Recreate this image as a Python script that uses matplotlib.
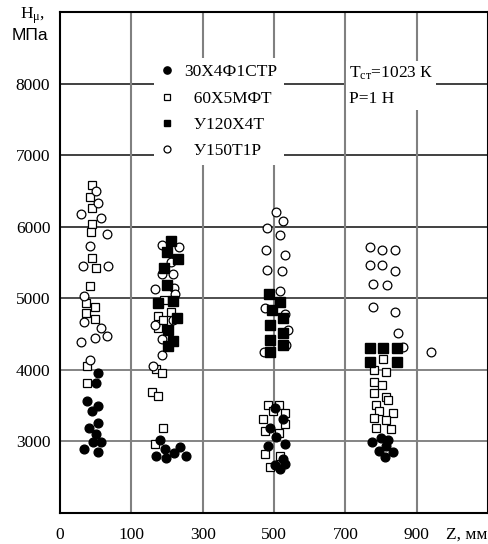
import numpy as np
import matplotlib
matplotlib.use('Agg')
import matplotlib.pyplot as plt
from matplotlib.lines import Line2D

plt.rcParams['font.family'] = ['Liberation Serif', 'DejaVu Serif']
plt.rcParams['font.size'] = 12.5
plt.rcParams['mathtext.fontset'] = 'custom'
plt.rcParams['mathtext.rm'] = 'Liberation Serif'
plt.rcParams['mathtext.it'] = 'Liberation Serif:italic'

# x axis labels are unevenly spaced (0,100,300,...) -> map Z (mm) to tick index
z_ticks = [0, 100, 300, 500, 700, 900, 1100]
tick_labels = ['0', '100', '300', '500', '700', '900']

def zpos(z):
    return np.interp(z, z_ticks, np.arange(len(z_ticks)))

# 30Х4Ф1СТР (filled circles)
z_30 = [53, 51, 38, 53, 45, 53, 41, 51, 46, 58, 34, 53,
        180, 194, 168, 196, 220, 237, 252,
        504, 526, 490, 507, 532, 484, 526, 504, 532, 518,
        799, 821, 776, 813, 793, 835, 810]
h_30 = [3960, 3820, 3560, 3500, 3420, 3260, 3190, 3110, 2990, 2990, 2900, 2850,
        3020, 2890, 2800, 2770, 2840, 2920, 2800,
        3470, 3310, 3190, 3060, 2960, 2930, 2750, 2670, 2680, 2610,
        3050, 3020, 2990, 2930, 2860, 2850, 2780]

# 60Х5МФТ (open squares)
z_60 = [45, 42, 45, 45, 44, 45, 51, 42, 37, 49, 37, 49, 38, 38,
        192, 175, 210, 190, 175, 170, 186, 159, 176, 190, 166,
        484, 515, 496, 532, 470, 532, 476, 515, 476, 518, 490,
        807, 779, 813, 779, 804, 779, 813, 785, 821, 793, 833, 779, 813, 785, 827]
h_60 = [6580, 6420, 6260, 6040, 5920, 5560, 5420, 5170, 4940, 4880, 4800, 4710, 4060, 3820,
        4980, 4750, 4810, 4690, 4580, 4010, 3950, 3690, 3630, 3190, 2960,
        3510, 3510, 3420, 3400, 3310, 3240, 3140, 3120, 2820, 2800, 2640,
        4150, 4000, 3970, 3830, 3790, 3680, 3620, 3510, 3580, 3430, 3400, 3330, 3300, 3190, 3170]

# У120Х4Т (filled squares)
z_120 = [211, 201, 231, 191, 201, 176, 218, 227, 203, 218, 203,
         487, 517, 494, 526, 490, 526, 490, 526, 490,
         768, 807, 844, 768, 844]
h_120 = [5800, 5640, 5550, 5430, 5180, 4940, 4960, 4730, 4560, 4410, 4330,
         5060, 4950, 4830, 4720, 4630, 4520, 4420, 4350, 4250,
         4300, 4300, 4300, 4110, 4110]

# У150Т1Р (open circles)
z_150 = [51, 53, 29, 58, 66, 42, 32, 67, 34, 34, 58, 66, 49, 29, 42,
         186, 235, 211, 187, 216, 166, 221, 222, 167, 218, 187, 187, 160,
         506, 526, 481, 517, 477, 531, 481, 523, 517, 476, 532, 540, 535, 473,
         768, 803, 839, 768, 803, 839, 778, 817, 778, 839, 847, 863, 939]
h_150 = [6500, 6330, 6180, 6120, 5900, 5730, 5450, 5450, 5030, 4670, 4590, 4480, 4450, 4390, 4140,
         5750, 5710, 5510, 5340, 5340, 5130, 5150, 5060, 4630, 4690, 4430, 4210, 4060,
         6210, 6080, 5980, 5880, 5680, 5600, 5400, 5380, 5100, 4860, 4780, 4560, 4350, 4250,
         5710, 5680, 5680, 5460, 5460, 5380, 5200, 5180, 4880, 4810, 4520, 4320, 4250]

labels = ['30Х4Ф1СТР', '  60Х5МФТ', '  У120Х4Т', '  У150Т1Р']

fig = plt.figure(figsize=(4.89, 5.44), dpi=100)
ax = fig.add_axes([60/489, 1 - 513/544, 428/489, 501/544])

for y, c in zip([8000, 7000, 6000, 5000, 4000, 3000],
                ['#202020', '#202020', '#202020', '#303030', '#707070', '#707070']):
    ax.axhline(y, color=c, lw=1.2, zorder=1)
for x in range(1, 6):
    ax.axvline(x, color='#808080', lw=1.5, zorder=1)

ax.plot(zpos(z_60), h_60, ls='', marker='s', ms=6.3, mfc='white', mec='black', mew=0.9, zorder=3)
ax.plot(zpos(z_150), h_150, ls='', marker='o', ms=6.3, mfc='white', mec='black', mew=0.9, zorder=3)
ax.plot(zpos(z_120), h_120, ls='', marker='s', ms=6.6, mfc='black', mec='black', zorder=4)
ax.plot(zpos(z_30), h_30, ls='', marker='o', ms=6.3, mfc='black', mec='black', zorder=4)

handles = [Line2D([], [], ls='', marker='o', ms=5.2, mfc='black', mec='black'),
           Line2D([], [], ls='', marker='s', ms=4.5, mfc='white', mec='black', mew=0.9),
           Line2D([], [], ls='', marker='s', ms=5, mfc='black', mec='black'),
           Line2D([], [], ls='', marker='o', ms=5, mfc='white', mec='black', mew=0.9)]
leg = ax.legend(handles, labels, loc='upper left', bbox_to_anchor=(0.2, 0.925),
                frameon=True, fancybox=False, framealpha=1, facecolor='white',
                edgecolor='none', handlelength=0.8, handletextpad=0.6,
                labelspacing=0.58, borderpad=0.35, fontsize=12.5)
leg.set_zorder(5)

ax.text(0.675, 0.853, 'T$_{\\mathrm{ст}}$=1023 К\nP=1 Н', transform=ax.transAxes,
        ha='left', va='center', linespacing=1.75, zorder=5,
        bbox=dict(facecolor='white', edgecolor='none', pad=2))

ax.set_xlim(0, 6)
ax.set_ylim(2000, 9000)
ax.set_xticks(list(range(6)) + [5.7])
ax.set_xticklabels(tick_labels + ['Z, мм'])
ax.set_yticks([3000, 4000, 5000, 6000, 7000, 8000])
ax.tick_params(length=0)
ax.tick_params(axis='x', pad=10)
ax.tick_params(axis='y', pad=7)
for s in ax.spines.values():
    s.set_linewidth(1.5)

fig.text(32/489, 1 - 16/544, 'H$_{\\mathrm{μ}}$,', ha='center', va='center', fontsize=12.5)
fig.text(30/489, 1 - 36/544, 'МПа', ha='center', va='center', fontsize=12.5,
         family=['Liberation Sans', 'DejaVu Sans'])

fig.savefig('out.png', dpi=100)
